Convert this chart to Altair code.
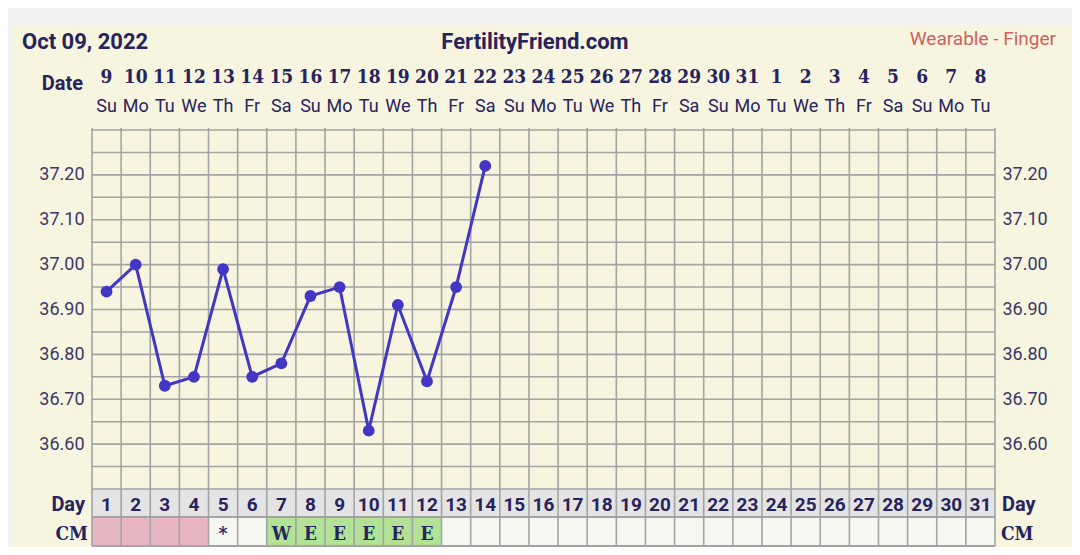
import altair as alt
import pandas as pd

# ---------------- data ----------------
cycle_days = list(range(1, 32))
dates = [9, 10, 11, 12, 13, 14, 15, 16, 17, 18, 19, 20, 21, 22, 23, 24, 25, 26, 27, 28,
         29, 30, 31, 1, 2, 3, 4, 5, 6, 7, 8]
weekdays = ["Su", "Mo", "Tu", "We", "Th", "Fr", "Sa",
            "Su", "Mo", "Tu", "We", "Th", "Fr", "Sa",
            "Su", "Mo", "Tu", "We", "Th", "Fr", "Sa",
            "Su", "Mo", "Tu", "We", "Th", "Fr", "Sa",
            "Su", "Mo", "Tu"]

temp_days = [1, 2, 3, 4, 5, 6, 7, 8, 9, 10, 11, 12, 13, 14]
temps = [36.94, 37.00, 36.73, 36.75, 36.99, 36.75, 36.78, 36.93, 36.95, 36.63,
         36.91, 36.74, 36.95, 37.22]

cm_kind = (["period"] * 4 + ["none", "none"] + ["fertile"] * 6 + ["none"] * 19)
cm_text = ([""] * 4 + ["*", "", "W", "E", "E", "E", "E", "E"] + [""] * 19)

y_ticks = [36.60, 36.70, 36.80, 36.90, 37.00, 37.10, 37.20]
y_grid = [36.50, 36.55, 36.60, 36.65, 36.70, 36.75, 36.80, 36.85, 36.90, 36.95,
          37.00, 37.05, 37.10, 37.15, 37.20, 37.25, 37.30]
x_bounds = [0.5, 1.5, 2.5, 3.5, 4.5, 5.5, 6.5, 7.5, 8.5, 9.5, 10.5, 11.5, 12.5, 13.5,
            14.5, 15.5, 16.5, 17.5, 18.5, 19.5, 20.5, 21.5, 22.5, 23.5, 24.5, 25.5,
            26.5, 27.5, 28.5, 29.5, 30.5, 31.5]

# ---------------- tables ----------------
cols = pd.DataFrame({
    "day": cycle_days,
    "date": [str(d) for d in dates],
    "wd": weekdays,
    "cm": cm_kind,
    "cmt": cm_text,
})
cols["x0"] = cols["day"] - 0.5
cols["x1"] = cols["day"] + 0.5
temps_df = pd.DataFrame({"day": temp_days, "temp": temps})
grid_df = pd.DataFrame({"g": y_grid})
vb_df = pd.DataFrame({"b": x_bounds})
one = pd.DataFrame({"a": [0]})

W, H = 903, 359
NAVY = "#27235c"
GRIDC = "#a3a3a3"
LINEC = "#4436c4"
FONT = "Roboto"
SLAB = "DejaVu Serif Condensed, DejaVu Serif"

xs = alt.Scale(domain=[0.5, 31.5], nice=False, zero=False)
ys = alt.Scale(domain=[36.5, 37.3], nice=False, zero=False)

panel = alt.Chart(one).mark_rect(color="#f7f5df").encode(
    x=alt.value(-81), x2=alt.value(984), y=alt.value(-104), y2=alt.value(417))

day_row = alt.Chart(one).mark_rect(color="#e4e4e4").encode(
    x=alt.value(0), x2=alt.value(W), y=alt.value(H), y2=alt.value(387))

cm_cells = alt.Chart(cols).mark_rect().encode(
    x=alt.X("x0:Q", scale=xs, axis=None), x2="x1:Q",
    y=alt.value(387), y2=alt.value(416),
    color=alt.Color("cm:N", legend=None,
                    scale=alt.Scale(domain=["period", "fertile", "none"],
                                    range=["#e8b5c2", "#b1e296", "#f7f7f1"])))

hgrid = alt.Chart(grid_df).mark_rule(color=GRIDC, strokeWidth=1.6).encode(
    y=alt.Y("g:Q", scale=ys, axis=None), x=alt.value(0), x2=alt.value(W))

row_lines = alt.Chart(pd.DataFrame({"yy": [387, 416]})).mark_rule(
    color=GRIDC, strokeWidth=1.8).encode(
    y=alt.Y("yy:Q", scale=None), x=alt.value(0), x2=alt.value(W))

vgrid = alt.Chart(vb_df).mark_rule(color=GRIDC, strokeWidth=1.6).encode(
    x=alt.X("b:Q", scale=xs, axis=None), y=alt.value(-2), y2=alt.value(416))

axis_common = dict(values=y_ticks, format=".2f", domain=False, ticks=False,
                   grid=False, labelFont=FONT, labelFontSize=18, labelColor="#3a3768",
                   zindex=2, title=None)

line = alt.Chart(temps_df).mark_line(color=LINEC, strokeWidth=3).encode(
    x=alt.X("day:Q", scale=xs, axis=None),
    y=alt.Y("temp:Q", scale=ys,
            axis=alt.Axis(orient="left", labelPadding=8, **axis_common)))

pts = alt.Chart(temps_df).mark_point(filled=True, opacity=1, size=140,
                                     color=LINEC).encode(
    x=alt.X("day:Q", scale=xs, axis=None),
    y=alt.Y("temp:Q", scale=ys,
            axis=alt.Axis(orient="right", labelPadding=7, **axis_common)))

def txt(df, field, y, size, bold=True, font=FONT, color=NAVY):
    return alt.Chart(df).mark_text(
        font=font, fontSize=size, fontWeight="bold" if bold else "normal",
        color=color, baseline="alphabetic", align="center").encode(
        x=alt.X("day:Q", scale=xs, axis=None), y=alt.value(y), text=f"{field}:N")

date_txt = txt(cols, "date", -47, 19, True, SLAB)
wd_txt = txt(cols, "wd", -18, 18, False)
day_txt = txt(cols, "day", 381, 19, True)
cm_txt = txt(cols, "cmt", 410, 19, True, SLAB)

def label(text, x, y, size, align="left", bold=True, font=FONT, color=NAVY):
    return alt.Chart(one).mark_text(
        text=text, font=font, fontSize=size, fontWeight="bold" if bold else "normal",
        color=color, align=align, baseline="alphabetic").encode(
        x=alt.value(x), y=alt.value(y))

labels = [
    label("Oct 09, 2022", -70, -81, 22),
    label("FertilityFriend.com", 443, -81, 22, align="center"),
    label("Wearable - Finger", 964, -85, 19, align="right", bold=False, color="#cf5f5e"),
    label("Date", -9, -40, 20, align="right"),
    label("Day", -7, 381, 20, align="right"),
    label("Day", 910, 381, 20, align="left"),
    label("CM", -4, 410, 19, align="right", font=SLAB),
    label("CM", 909, 410, 19, align="left", font=SLAB),
]

chart = alt.layer(
    panel, day_row, cm_cells, hgrid, row_lines, vgrid, line, pts,
    date_txt, wd_txt, day_txt, cm_txt, *labels
).resolve_axis(y="independent").properties(
    width=W, height=H,
    autosize=alt.AutoSizeParams(type="none"),
    padding={"left": 84, "top": 122, "right": 77, "bottom": 58},
    background="#f2f2f2",
).configure_view(stroke=None)

chart.save("out.html", embed_options={"renderer": "svg", "actions": False})
